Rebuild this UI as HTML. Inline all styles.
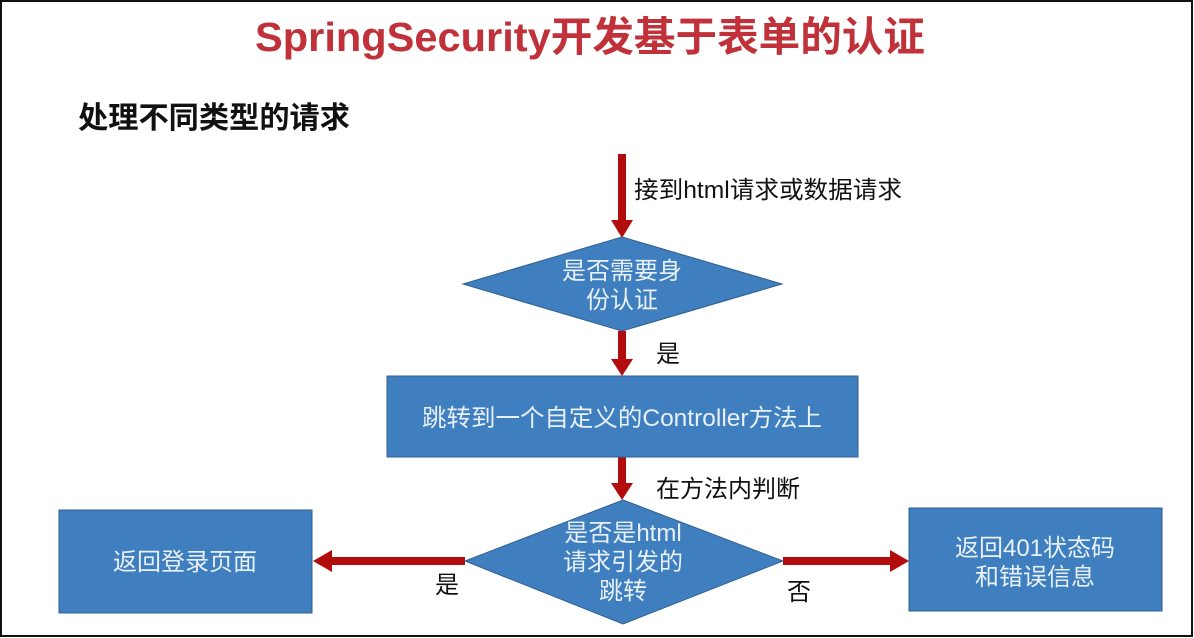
<!DOCTYPE html>
<html><head><meta charset="utf-8">
<style>
html,body{margin:0;padding:0;background:#fff;}
.wrap{position:relative;width:1194px;height:638px;overflow:hidden;}
text{font-family:"Liberation Sans","Noto Sans CJK SC",sans-serif;}
</style></head><body><div class="wrap">
<svg width="1194" height="638" viewBox="0 0 1194 638" xmlns="http://www.w3.org/2000/svg">
<rect x="1" y="1" width="1191" height="635" fill="#fff" stroke="#111" stroke-width="2"/>
<text x="255" y="51" font-size="41" font-weight="bold" fill="#c0313a" textLength="670" lengthAdjust="spacingAndGlyphs">SpringSecurity开发基于表单的认证</text>
<text x="78" y="128" font-size="30" font-weight="bold" fill="#111" textLength="272" lengthAdjust="spacingAndGlyphs">处理不同类型的请求</text>
<g fill="#b30c0c" stroke="none">
<rect x="618" y="154" width="8" height="68"/><polygon points="611,220 633,220 622,238"/>
<rect x="618" y="331" width="8" height="30"/><polygon points="611,359 633,359 622,376"/>
<rect x="618" y="457" width="8" height="28"/><polygon points="611,483 633,483 622,500"/>
<rect x="330" y="557" width="135" height="8"/><polygon points="332,550 332,572 313,561"/>
<rect x="783" y="557" width="110" height="8"/><polygon points="890,550 890,572 909,561"/>
</g>
<g fill="#3f7fbf" stroke="#2f5f90" stroke-width="1">
<polygon points="622,237 782,284 622,331 463,284"/>
<rect x="387" y="376" width="471" height="81"/>
<polygon points="623,500 783,561 623,624 465,561"/>
<rect x="59" y="510" width="253" height="103"/>
<rect x="909" y="508" width="253" height="103"/>
</g>
<g fill="#e8f0f8" font-size="24" text-anchor="middle">
<text x="622" y="279">是否需要身</text>
<text x="622" y="308">份认证</text>
<text x="622" y="426" textLength="400" lengthAdjust="spacingAndGlyphs">跳转到一个自定义的Controller方法上</text>
<text x="623" y="541">是否是html</text>
<text x="623" y="570">请求引发的</text>
<text x="623" y="599">跳转</text>
<text x="185" y="570">返回登录页面</text>
<text x="1035" y="556">返回401状态码</text>
<text x="1035" y="585">和错误信息</text>
</g>
<g fill="#111" font-size="24">
<text x="634" y="198" textLength="268" lengthAdjust="spacingAndGlyphs">接到html请求或数据请求</text>
<text x="656" y="362">是</text>
<text x="656" y="497">在方法内判断</text>
<text x="435" y="593">是</text>
<text x="787" y="600">否</text>
</g>
</svg>
</div></body></html>
